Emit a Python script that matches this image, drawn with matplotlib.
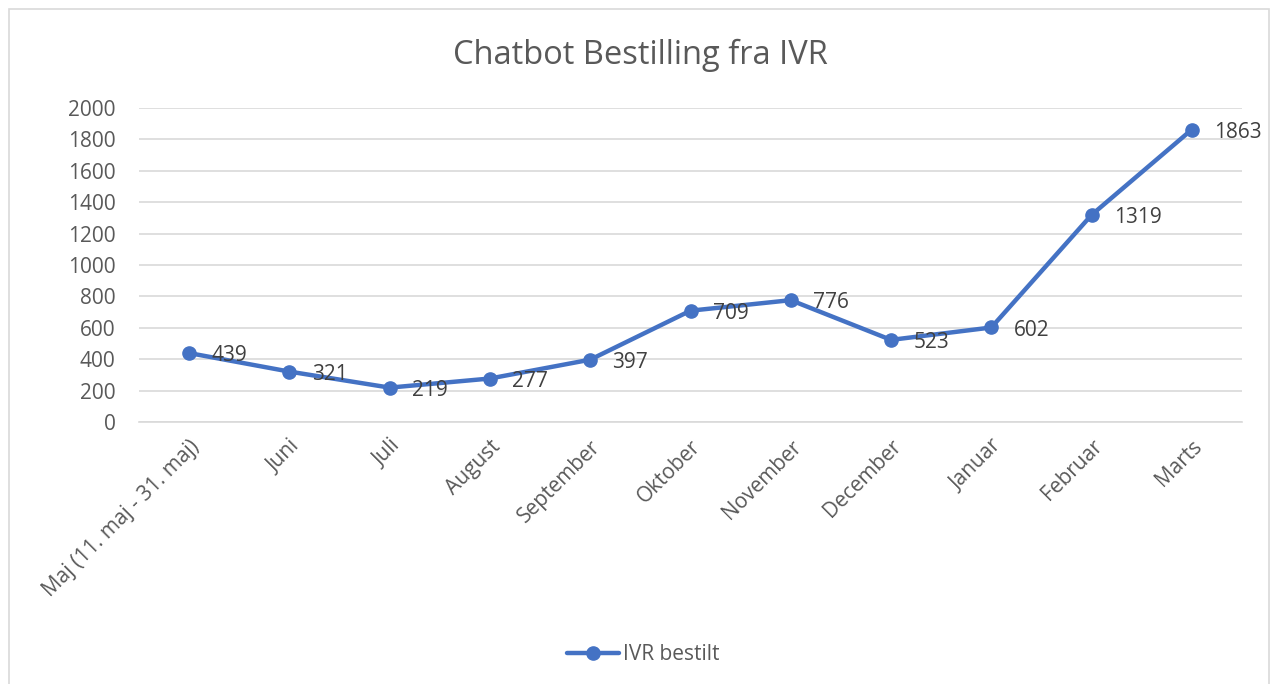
import matplotlib.pyplot as plt
from matplotlib.patches import Rectangle

months = ["Maj (11. maj - 31. maj)", "Juni", "Juli", "August", "September",
          "Oktober", "November", "December", "Januar", "Februar", "Marts"]
ivr_bestilt = [439, 321, 219, 277, 397, 709, 776, 523, 602, 1319, 1863]
y_ticks = list(range(0, 2001, 200))

plt.rcParams["font.family"] = ["Open Sans", "DejaVu Sans"]


def main():
    fig = plt.figure(figsize=(12.71, 6.84), dpi=100)
    ax = fig.add_axes([139 / 1271, 1 - 422 / 684, (1242 - 139) / 1271, (422 - 108) / 684])

    # chart border
    fig.patches.append(Rectangle((9 / 1271, -0.01), (1269 - 9) / 1271, 1 - 9 / 684 + 0.01,
                                 transform=fig.transFigure, fill=False,
                                 edgecolor="#D9D9D9", linewidth=1.2))

    x = list(range(len(months)))
    ax.plot(x, ivr_bestilt, "-o", color="#4472C4", linewidth=3.2, markersize=9.5,
            label="IVR bestilt", solid_capstyle="round")

    for xi, v in zip(x, ivr_bestilt):
        ax.annotate(str(v), (xi, v), xytext=(16, -2), textcoords="offset points",
                    ha="left", va="center", fontsize=15, color="#404040")

    ax.set_xlim(-0.5, len(months) - 0.5)
    ax.set_ylim(0, 2000)
    ax.set_yticks(y_ticks)
    ax.set_xticks(x)
    ax.set_xticklabels(months, rotation=45, ha="right", rotation_mode="anchor")
    ax.tick_params(axis="both", length=0, labelsize=15, labelcolor="#595959")
    ax.tick_params(axis="y", pad=17)
    ax.tick_params(axis="x", pad=10)
    ax.grid(axis="y", color="#D9D9D9", linewidth=1.2)
    ax.set_axisbelow(True)
    for s in ax.spines.values():
        s.set_visible(False)
    ax.spines["bottom"].set_visible(True)
    ax.spines["bottom"].set_color("#D9D9D9")
    ax.spines["bottom"].set_linewidth(1.2)

    fig.text(640 / 1271, 1 - 55 / 684, "Chatbot Bestilling fra IVR", ha="center", va="center",
             fontsize=23.5, color="#595959")

    fig.legend(loc="center", bbox_to_anchor=(643 / 1271, 1 - 655 / 684), frameon=False,
               fontsize=15, labelcolor="#595959", handlelength=2.5, handletextpad=0.2)

    fig.savefig("out.png", dpi=100)


if __name__ == "__main__":
    main()
